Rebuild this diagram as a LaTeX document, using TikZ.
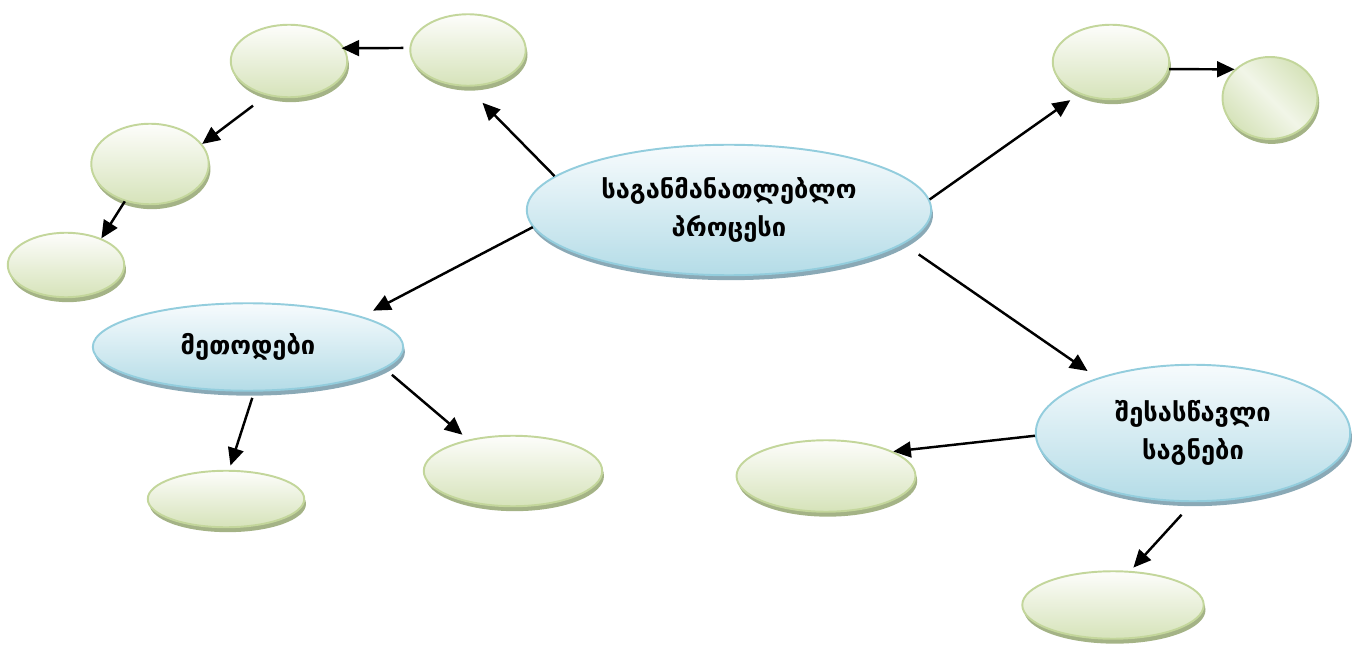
\documentclass[tikz,border=0pt]{standalone}
\usepackage{fontspec}
\setmainfont{DejaVu Sans}
\usepackage{xcolor}
\usepackage{tikz}
\usetikzlibrary{shapes.geometric,shadows,arrows.meta}
\definecolor{bluetop}{HTML}{F7FBFD}
\definecolor{bluebot}{HTML}{B4DCE7}
\definecolor{blueline}{HTML}{93CDDD}
\definecolor{blueshade}{HTML}{8AA9B6}
\definecolor{greentop}{HTML}{FDFDFB}
\definecolor{greenbot}{HTML}{D6E3BA}
\definecolor{greenline}{HTML}{C3D69B}
\definecolor{greenshade}{HTML}{A4B386}
\tikzset{
  topic/.style={ellipse, draw=blueline, line width=1.1pt, inner sep=0pt, top color=bluetop, bottom color=bluebot,
    drop shadow={shadow xshift=1pt, shadow yshift=-2.8pt, fill=blueshade, opacity=1},
    align=center, font=\bfseries\fontsize{14.5}{21.5}\selectfont},
  leaf/.style={ellipse, draw=greenline, line width=1.1pt, inner sep=0pt, top color=greentop, bottom color=greenbot,
    drop shadow={shadow xshift=1pt, shadow yshift=-2.8pt, fill=greenshade, opacity=1}},
  link/.style={draw=black, line width=1.4pt, -{Triangle[length=10pt,width=9pt]}},
}
\begin{document}
\begin{tikzpicture}[x=0.02cm, y=-0.02cm]
  \useasboundingbox (0,0) rectangle (1353,645);
  \node[topic, minimum width=8.09cm, minimum height=2.61cm] (proc) at (729,210) {საგანმანათლებლო\\პროცესი};
  \node[topic, minimum width=6.21cm, minimum height=1.75cm] (meth) at (248,347) {მეთოდები};
  \node[topic, minimum width=6.29cm, minimum height=2.73cm] (subj) at (1193,433) {შესასწავლი\\საგნები};
  \node[leaf, minimum width=2.31cm, minimum height=1.43cm] (up1) at (468,50) {};
  \node[leaf, minimum width=2.33cm, minimum height=1.45cm] (up2) at (289,61) {};
  \node[leaf, minimum width=2.35cm, minimum height=1.61cm] (up3) at (150,164) {};
  \node[leaf, minimum width=2.33cm, minimum height=1.29cm] (up4) at (66,265) {};
  \node[leaf, minimum width=3.13cm, minimum height=1.13cm] (me1) at (226,499) {};
  \node[leaf, minimum width=3.57cm, minimum height=1.41cm] (me2) at (513,471) {};
  \node[leaf, minimum width=2.33cm, minimum height=1.49cm] (rt1) at (1111,62) {};
  \node[leaf, minimum width=1.90cm, minimum height=1.64cm, shading=axis, left color=greenbot, right color=greenbot, middle color=greentop!70!greenbot, shading angle=-45] (rt2) at (1270,98) {};
  \node[leaf, minimum width=3.58cm, minimum height=1.43cm] (su1) at (826,476) {};
  \node[leaf, minimum width=3.63cm, minimum height=1.35cm] (su2) at (1113,605) {};
  \draw[link, shorten >=0.45cm] (proc.169) -- (up1.-92);
  \draw[link, shorten <=0.12cm, shorten >=-0.06cm] (up1.178) -- (up2.13);
  \draw[link, shorten <=0.34cm] (up2.237) -- (up3.21);
  \draw[link] (up3.236) -- (up4.37);
  \draw[link, shorten >=0.25cm] (proc.185) -- (meth.15);
  \draw[link, shorten <=0.13cm, shorten >=0.09cm] (meth.-82) -- (me1.84);
  \draw[link, shorten <=0.19cm, shorten >=0.15cm] (meth.-9) -- (me2.145);
  \draw[link, shorten >=0.21cm] (proc.3) -- (rt1.225);
  \draw[link] (rt1.-7) -- (rt2.141);
  \draw[link, shorten <=0.37cm, shorten >=0.24cm] (proc.-11) -- (subj.150);
  \draw[link] (subj.181) -- (su1.20);
  \draw[link, shorten <=0.34cm, shorten >=0.09cm] (subj.-90) -- (su2.63);
\end{tikzpicture}
\end{document}
